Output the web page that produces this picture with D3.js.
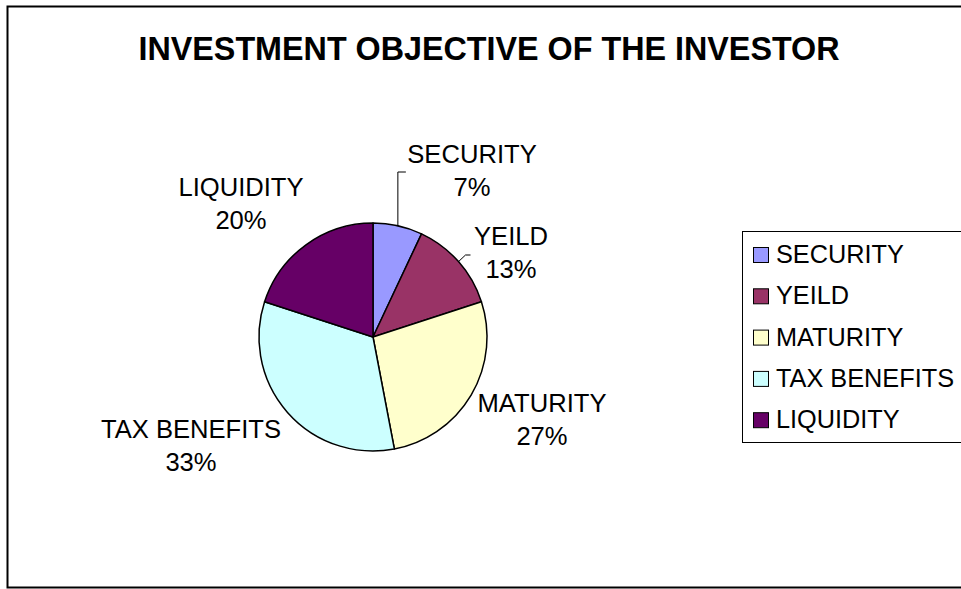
<!DOCTYPE html>
<html>
<head>
<meta charset="utf-8">
<script src="https://cdn.jsdelivr.net/npm/d3@7"></script>
<style>
  html, body { margin: 0; padding: 0; background: #fff; }
  svg { display: block; }
  text { font-family: "Liberation Sans", Arial, Helvetica, sans-serif; fill: #000; }
</style>
</head>
<body>
<svg id="chart" width="961" height="589"></svg>
<script>
// Survey data: share of respondents by investment objective
const categories = ["SECURITY", "YEILD", "MATURITY", "TAX BENEFITS", "LIQUIDITY"];
const values = [7, 13, 27, 33, 20];
const colors = ["#9999FF", "#993366", "#FFFFCC", "#CCFFFF", "#660066"];
const titleText = "INVESTMENT OBJECTIVE OF THE INVESTOR";

const svg = d3.select("#chart");

// outer frame (runs off the right edge)
svg.append("rect")
  .attr("x", 7.5).attr("y", 6.5)
  .attr("width", 1000).attr("height", 581)
  .attr("fill", "#fff").attr("stroke", "#000").attr("stroke-width", 2);

svg.append("text")
  .attr("x", 489).attr("y", 60)
  .attr("text-anchor", "middle")
  .style("font-size", "32.3px").style("font-weight", "bold")
  .text(titleText);

const cx = 373, cy = 337, r = 114;
const data = categories.map((c, i) => ({ name: c, value: values[i], color: colors[i] }));
const pie = d3.pie().sort(null).value(d => d.value).startAngle(0).endAngle(2 * Math.PI);
const arcs = pie(data);
const arc = d3.arc().innerRadius(0).outerRadius(r);

const g = svg.append("g").attr("transform", `translate(${cx},${cy})`);
g.selectAll("path.slice")
  .data(arcs)
  .join("path")
  .attr("class", "slice")
  .attr("d", arc)
  .attr("fill", d => d.data.color)
  .attr("stroke", "#000")
  .attr("stroke-width", 1.5)
  .attr("stroke-linejoin", "round");

// data label placement (text centre x, first-line baseline y) per slice
const labelPos = {
  "SECURITY": [472, 163],
  "YEILD": [511, 245],
  "MATURITY": [542, 412],
  "TAX BENEFITS": [191, 438],
  "LIQUIDITY": [241, 196]
};

const total = d3.sum(values);
const edgePoint = d => {
  const a = (d.startAngle + d.endAngle) / 2;
  return [cx + r * Math.sin(a), cy - r * Math.cos(a)];
};

// leader lines for the two small slices
const leader = svg.append("g").attr("fill", "none").attr("stroke", "#000").attr("stroke-width", 1);
{
  const d = arcs[0];
  const [x, y] = edgePoint(d);
  leader.append("path").attr("d", `M${x},${y} L${x},172 L${x + 8},172`);
}
{
  const d = arcs[1];
  const [x, y] = edgePoint(d);
  leader.append("path").attr("d", `M${x},${y} L${x + 7},255 L${x + 12},255`);
}

arcs.forEach(d => {
  const [lx, ly] = labelPos[d.data.name];
  const t = svg.append("text")
    .attr("text-anchor", "middle")
    .style("font-size", "25.6px");
  t.append("tspan").attr("x", lx).attr("y", ly).text(d.data.name);
  t.append("tspan").attr("x", lx).attr("y", ly + 33)
    .text(Math.round(d.data.value / total * 100) + "%");
});

// legend
const legend = svg.append("g");
legend.append("rect")
  .attr("x", 742.5).attr("y", 231.5)
  .attr("width", 300).attr("height", 211)
  .attr("fill", "#fff").attr("stroke", "#000").attr("stroke-width", 1);

const rowY = d3.scalePoint().domain(categories).range([263, 428.2]);
categories.forEach((c, i) => {
  const y = rowY(c);
  legend.append("rect")
    .attr("x", 753.5).attr("y", y - 15.5)
    .attr("width", 15).attr("height", 15)
    .attr("fill", colors[i]).attr("stroke", "#000").attr("stroke-width", 1);
  legend.append("text")
    .attr("x", 776).attr("y", y)
    .style("font-size", "25.3px")
    .text(c);
});
</script>
</body>
</html>
